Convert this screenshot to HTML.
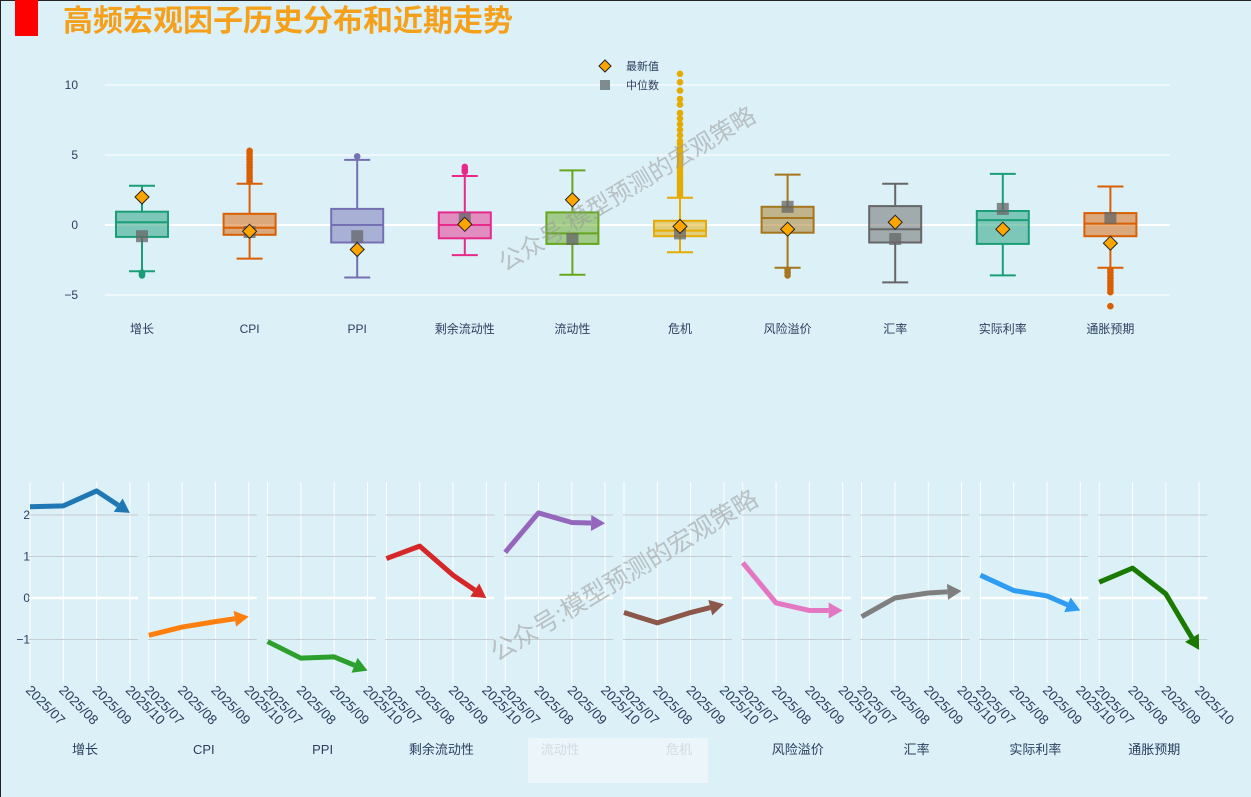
<!DOCTYPE html>
<html><head><meta charset="utf-8">
<style>
html,body{margin:0;padding:0;background:#dcf0f7;}
svg{display:block;font-family:"Liberation Sans","Noto Sans CJK SC",sans-serif;}
</style></head>
<body>
<svg id="chart" width="1251" height="797" viewBox="0 0 1251 797">
<rect x="0" y="0" width="1251" height="797" fill="#dcf0f7"/>
<line x1="0.5" y1="0" x2="0.5" y2="797" stroke="#222" stroke-width="1"/>
<line x1="0" y1="0.5" x2="1251" y2="0.5" stroke="#222" stroke-width="1"/>
<rect x="15" y="0" width="23" height="36" fill="#ff0000"/>
<text x="63" y="31" font-size="30" font-weight="bold" fill="#f5a01a" font-family="'Liberation Sans','Noto Sans CJK SC',sans-serif">高频宏观因子历史分布和近期走势</text>
<g id="topG"></g>
<g id="bottomG"></g>
<g>
  <path d="M605,60 L611,66 L605,72 L599,66 Z" fill="#ffa500" stroke="#222" stroke-width="1"/>
  <text x="626" y="70" font-size="11" fill="#2a3f5f">最新值</text>
  <rect x="600" y="80" width="10" height="10" fill="#7f8c8d"/>
  <text x="626" y="89" font-size="11" fill="#2a3f5f">中位数</text>
</g>
<text x="0" y="0" font-size="24" fill="#999" fill-opacity="0.55" transform="translate(505,272) rotate(-31)">公众号:模型预测的宏观策略</text>
<text x="0" y="0" font-size="25" fill="#999" fill-opacity="0.55" transform="translate(497,662) rotate(-31)">公众号:模型预测的宏观策略</text>
<rect x="528" y="738" width="180" height="45" fill="#eef6f9" opacity="0.85"/>
</svg>
<script>
const NS="http://www.w3.org/2000/svg";
// ---------- top box plot data ----------
const factors=["增长","CPI","PPI","剩余流动性","流动性","危机","风险溢价","汇率","实际利率","通胀预期"];
const q1=[-0.85,-0.7,-1.25,-0.95,-1.35,-0.8,-0.55,-1.25,-1.35,-0.8];
const q3=[0.95,0.8,1.15,0.9,0.9,0.3,1.3,1.35,1.0,0.85];
const medians=[0.2,-0.2,0,0,-0.6,-0.4,0.5,-0.3,0.35,0.1];
const lowerWhisker=[-3.3,-2.4,-3.75,-2.15,-3.55,-1.95,-3.05,-4.1,-3.6,-3.05];
const upperWhisker=[2.8,2.95,4.65,3.5,3.9,1.95,3.6,2.95,3.65,2.75];
const latest=[2.0,-0.45,-1.75,0.05,1.8,-0.1,-0.3,0.2,-0.3,-1.3];
const medianMarker=[-0.8,-0.5,-0.8,0.45,-1.0,-0.6,1.3,-1.0,1.15,0.5];
const outliers=[[-3.4,-3.5,-3.6],[3.1,3.3,3.5,3.7,3.9,4.1,4.3,4.5,4.7,4.9,5.1,5.3],[4.9],[3.8,3.95,4.15],[],
[2.1,2.3,2.5,2.7,2.9,3.1,3.3,3.5,3.7,3.9,4.1,4.3,4.5,4.7,4.9,5.1,5.3,5.5,5.8,6.0,6.4,6.8,7.2,7.6,8.0,8.6,9.0,9.6,10.2,10.8],
[-3.2,-3.4,-3.6],[],[],[-3.2,-3.4,-3.6,-3.8,-4.0,-4.2,-4.4,-4.6,-4.8,-5.8]];
const yTicksTop=[10,5,0,-5];
const boxColors=["#1b9e77","#d95f02","#7570b3","#e7298a","#66a61e","#e6ab02","#a6761d","#666666","#1b9e77","#d95f02"];
// ---------- bottom trend data ----------
const months=["2025/07","2025/08","2025/09","2025/10"];
const trendSeries=[[2.2,2.22,2.58,2.05],[-0.9,-0.7,-0.57,-0.45],[-1.05,-1.45,-1.42,-1.75],[0.95,1.25,0.55,0.0],[1.1,2.05,1.82,1.8],[-0.35,-0.6,-0.35,-0.15],[0.85,-0.12,-0.3,-0.3],[-0.45,0.0,0.12,0.17],[0.55,0.18,0.05,-0.3],[0.38,0.72,0.1,-1.25]];
const yTicksBottom=[2,1,0,-1];
const lineColors=["#1f77b4","#ff7f0e","#2ca02c","#d62728","#9467bd","#8c564b","#e377c2","#7f7f7f","#2e9cf2","#1a7a00"];

function mk(tag,attrs,parent){const e=document.createElementNS(NS,tag);for(const k in attrs)e.setAttribute(k,attrs[k]);parent.appendChild(e);return e;}
const topG=document.getElementById("topG"), bottomG=document.getElementById("bottomG");
const yT=v=>225-v*14;
const xT=i=>142+i*107.6;
yTicksTop.forEach(t=>{
  const l=mk("line",{x1:105,x2:1170,y1:yT(t),y2:yT(t),stroke:"#fff","stroke-width":t===0?2:1},topG);
  
  
  const tx=mk("text",{x:78,y:yT(t)+4,"font-size":12,fill:"#2a3f5f","text-anchor":"end"},topG);
  tx.textContent=t<0?"−"+Math.abs(t):String(t);
  
  
});
factors.forEach((f,i)=>{
  const g=mk("g",{},topG);
  
  
  const c=boxColors[i],x=xT(i),w=52;
  mk("line",{x1:x,x2:x,y1:yT(upperWhisker[i]),y2:yT(q3[i]),stroke:c,"stroke-width":2},g);
  mk("line",{x1:x,x2:x,y1:yT(q1[i]),y2:yT(lowerWhisker[i]),stroke:c,"stroke-width":2},g);
  mk("line",{x1:x-13,x2:x+13,y1:yT(upperWhisker[i]),y2:yT(upperWhisker[i]),stroke:c,"stroke-width":2},g);
  mk("line",{x1:x-13,x2:x+13,y1:yT(lowerWhisker[i]),y2:yT(lowerWhisker[i]),stroke:c,"stroke-width":2},g);
  mk("rect",{x:x-w/2,y:yT(q3[i]),width:w,height:yT(q1[i])-yT(q3[i]),fill:c,"fill-opacity":0.5,stroke:c,"stroke-width":2},g);
  mk("line",{x1:x-w/2,x2:x+w/2,y1:yT(medians[i]),y2:yT(medians[i]),stroke:c,"stroke-width":2},g);
  outliers[i].forEach(v=>{
    const p=mk("circle",{cx:x,cy:yT(v),r:3.3,fill:c},g);
    
    
  });
  const sq=mk("rect",{x:x-6,y:yT(medianMarker[i])-6,width:12,height:12,fill:"#666","fill-opacity":0.75},g);
  
  
  const yl=yT(latest[i]);
  const d=mk("path",{d:`M${x},${yl-7} L${x+7},${yl} L${x},${yl+7} L${x-7},${yl} Z`,fill:"#ffa500",stroke:"#222","stroke-width":1},g);
  
  
  const lb=mk("text",{x:x,y:333,"font-size":12,fill:"#2a3f5f","text-anchor":"middle"},topG);
  lb.textContent=f;
  
  
});
const yB=v=>598-v*41.5;
yTicksBottom.forEach(t=>{
  const tx=mk("text",{x:30,y:yB(t)+4,"font-size":12,fill:"#2a3f5f","text-anchor":"end"},bottomG);
  tx.textContent=t<0?"−"+Math.abs(t):String(t);
  
  
});
factors.forEach((f,p)=>{
  const x0=30+p*118.8;
  const xB=j=>x0+j*33.3;
  const g=mk("g",{},bottomG);
  
  
  months.forEach((m,j)=>{
    mk("line",{x1:xB(j),x2:xB(j),y1:482,y2:683,stroke:"#fff","stroke-width":1},g);
  });
  yTicksBottom.forEach(t=>{
    mk("line",{x1:x0-1,x2:x0+108,y1:yB(t),y2:yB(t),stroke:t===0?"#fff":"#c4cdd2","stroke-width":t===0?2.5:1},g);
  });
  months.forEach((m,j)=>{
    const tx=mk("text",{x:0,y:0,"font-size":13.5,fill:"#2a3f5f",transform:`translate(${xB(j)-5},${691}) rotate(45)`},g);
    tx.textContent=m;
    
    
  });
  const s=trendSeries[p],c=lineColors[p];
  const n=s.length-1;
  const ex=xB(n),ey=yB(s[n]),px=xB(n-1),py=yB(s[n-1]);
  const ang=Math.atan2(ey-py,ex-px),L=14;
  const bx=ex-L*Math.cos(ang),by=ey-L*Math.sin(ang);
  let pts=s.slice(0,n).map((v,j)=>xB(j)+","+yB(v)).join(" ")+" "+bx+","+by;
  const pl=mk("polyline",{points:pts,fill:"none",stroke:c,"stroke-width":5,"stroke-linejoin":"round"},g);
  
  
  const nx=-Math.sin(ang)*8,ny=Math.cos(ang)*8;
  const ah=mk("path",{d:`M${ex},${ey} L${bx+nx},${by+ny} L${bx-nx},${by-ny} Z`,fill:c},g);
  
  
  const lb=mk("text",{x:x0+55,y:754,"font-size":13,fill:"#2a3f5f","text-anchor":"middle"},g);
  lb.textContent=f;
  
  
});
</script>
</body></html>
